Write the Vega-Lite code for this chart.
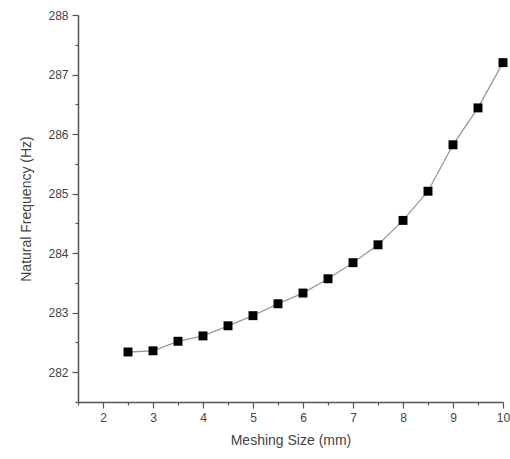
{
  "$schema": "https://vega.github.io/schema/vega-lite/v6.json",
  "autosize": {"type": "none"},
  "width": 425,
  "height": 387,
  "padding": {"left": 78, "top": 15, "right": 7, "bottom": 57},
  "background": "white",
  "config": {
    "view": {"stroke": null},
    "font": "Liberation Sans"
  },
  "data": {
    "values": [
      {"size": 2.5, "freq": 282.34},
      {"size": 3.0, "freq": 282.36},
      {"size": 3.5, "freq": 282.52},
      {"size": 4.0, "freq": 282.61},
      {"size": 4.5, "freq": 282.78},
      {"size": 5.0, "freq": 282.95},
      {"size": 5.5, "freq": 283.15},
      {"size": 6.0, "freq": 283.33},
      {"size": 6.5, "freq": 283.57},
      {"size": 7.0, "freq": 283.84},
      {"size": 7.5, "freq": 284.14},
      {"size": 8.0, "freq": 284.55},
      {"size": 8.5, "freq": 285.04},
      {"size": 9.0, "freq": 285.82},
      {"size": 9.5, "freq": 286.44},
      {"size": 10.0, "freq": 287.2}
    ]
  },
  "encoding": {
    "x": {
      "field": "size",
      "type": "quantitative",
      "scale": {"domain": [1.5, 10], "nice": false, "zero": false},
      "axis": {
        "title": "Meshing Size (mm)",
        "values": [1.5, 2, 2.5, 3, 3.5, 4, 4.5, 5, 5.5, 6, 6.5, 7, 7.5, 8, 8.5, 9, 9.5, 10],
        "format": ".0f",
        "labelExpr": "datum.value % 1 === 0 ? datum.label : ''",
        "grid": false,
        "domainColor": "#555",
        "domainWidth": 1.5,
        "tickColor": "#555",
        "tickWidth": 1.2,
        "tickSize": {"condition": {"test": "datum.value % 1 === 0", "value": 6}, "value": 3},
        "labelFontSize": 12,
        "labelColor": "#444",
        "labelPadding": 4,
        "titleFontSize": 14,
        "titleFontWeight": "normal",
        "titleColor": "#444",
        "titlePadding": 10,
        "labelFlush": false
      }
    },
    "y": {
      "field": "freq",
      "type": "quantitative",
      "scale": {"domain": [281.5, 288], "nice": false, "zero": false},
      "axis": {
        "title": "Natural Frequency (Hz)",
        "values": [281.5, 282, 282.5, 283, 283.5, 284, 284.5, 285, 285.5, 286, 286.5, 287, 287.5, 288],
        "format": ".0f",
        "labelExpr": "datum.value % 1 === 0 ? datum.label : ''",
        "grid": false,
        "domainColor": "#555",
        "domainWidth": 1.5,
        "tickColor": "#555",
        "tickWidth": 1.2,
        "tickSize": {"condition": {"test": "datum.value % 1 === 0", "value": 6}, "value": 3},
        "labelFontSize": 12,
        "labelColor": "#444",
        "labelPadding": 4,
        "titleFontSize": 14,
        "titleFontWeight": "normal",
        "titleColor": "#444",
        "titlePadding": 14,
        "labelFlush": false
      }
    }
  },
  "layer": [
    {"mark": {"type": "line", "color": "#999", "strokeWidth": 1.3}},
    {"mark": {"type": "point", "shape": "square", "filled": true, "color": "black", "opacity": 1, "size": 80}}
  ]
}
